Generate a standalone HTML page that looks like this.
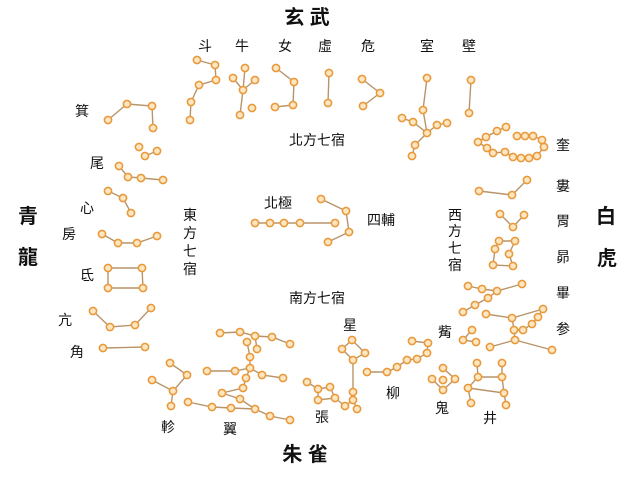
<!DOCTYPE html>
<html><head><meta charset="utf-8"><style>
html,body{margin:0;padding:0;background:#fff;}
svg{display:block}
text{font-family:"Liberation Sans","Noto Sans CJK TC","Noto Sans CJK SC",sans-serif;fill:#111;text-anchor:middle;dominant-baseline:central}
.s{font-size:14px}
.b{font-size:20px;font-weight:bold}
polyline,line,polygon{fill:none;stroke:#b8946a;stroke-width:1.4}
circle{fill:#fde7c2;stroke:#e89a3c;stroke-width:1.6}
</style></head><body>
<svg id="s" width="640" height="480" viewBox="0 0 640 480" xmlns="http://www.w3.org/2000/svg">
<g id="L">
<!-- 斗 -->
<polyline points="197,60 215,65 216,80 199,85 191,102 190,120"/>
<!-- 牛 -->
<polyline points="245,68 243,90 240,115"/><polyline points="233,78 243,90"/><polyline points="255,80 243,90"/><polyline points="252,108"/>
<!-- 女 -->
<polyline points="276,68 294,82 293,105 275,107"/>
<!-- 虛 -->
<polyline points="329,73 328,103"/>
<!-- 危 -->
<polyline points="362,79 380,93 363,106"/>
<!-- 室 -->
<polyline points="427,78 423,110 427,133"/><polyline points="402,118 413,122 427,133"/><polyline points="427,133 437,125 447,123"/><polyline points="427,133 415,145 412,156"/>
<!-- 壁 -->
<polyline points="471,80 469,113"/>
<!-- 奎 -->
<polyline points="506,127 497,131 486,137 478,142 487,148 493,153 505,152 513,157 521,158 529,158 537,156 544,147 542,140 533,136 525,136 517,136"/>
<!-- 婁 -->
<polyline points="479,191 512,195 527,180"/>
<!-- 胃 -->
<polyline points="500,214 513,227 524,215"/>
<!-- 昴 -->
<polyline points="499,241 515,241 509,254 513,266 493,265 495,249 499,241"/>
<!-- 畢 -->
<polyline points="468,286 482,289 497,291 522,284"/><polyline points="497,291 488,298 475,305 463,312"/>
<!-- 参 -->
<polyline points="486,314 512,318 543,309"/><polyline points="512,318 514,330 515,340 490,347"/><polyline points="515,340 552,350"/><polyline points="543,309 538,317 532,324 523,330 514,330"/>
<!-- 觜 -->
<polyline points="472,330 463,340 476,342"/>
<!-- 鬼 -->
<polyline points="443,368 455,379 443,390 432,379"/><polyline points="443,380"/>
<!-- 井 -->
<polyline points="477,363 478,377 468,388 471,403"/><polyline points="502,363 502,377 504,393 506,405"/><polyline points="478,377 502,377"/><polyline points="468,388 504,393"/>
<!-- 柳 -->
<polyline points="367,372 387,372 397,367 407,360 417,359 427,353 428,343 412,341"/>
<!-- 星 張 -->
<polyline points="352,340 365,353 353,360 342,349 352,340"/>
<polyline points="353,360 353,392 353,400 357,409"/>
<polyline points="307,382 318,389 330,387 335,398 318,400 318,389"/>
<polyline points="335,398 345,406 353,400"/>
<!-- 翼 -->
<polyline points="220,333 240,332 255,336 272,337 290,344"/>
<polyline points="255,336 257,349"/><polyline points="247,342 250,357 250,368"/>
<polyline points="207,371 235,371 250,368 262,375 283,378"/>
<polyline points="250,368 246,378 243,388 222,393"/>
<polyline points="222,393 240,399 255,409"/>
<polyline points="188,402 212,407 231,408 255,409 270,416 290,420"/>
<!-- 軫 -->
<polyline points="170,363 187,375 173,391 171,406"/><polyline points="152,380 173,391"/>
<!-- 角 亢 氐 房 心 尾 箕 -->
<polyline points="103,348 145,347"/>
<polyline points="93,311 110,327 135,325 151,308"/>
<polyline points="108,268 142,268 143,288 108,288 108,268"/>
<polyline points="102,234 118,243 137,243 157,236"/>
<polyline points="108,191 123,198 131,213"/>
<polyline points="119,166 128,177 141,178 163,180"/>
<polyline points="139,147"/><polyline points="145,156 157,151"/>
<polyline points="108,120 127,104 152,106 153,128"/>
<!-- 北極 四輔 -->
<polyline points="255,223 270,223 284,223 300,223 335,223"/>
<polyline points="321,199 346,211 349,232 328,242"/>
</g>
<g id="C"></g>

<text class="b" x="307" y="18">玄 武</text>
<text class="b" x="305" y="455">朱 雀</text>
<text class="b" x="28" y="217">青</text><text class="b" x="28" y="258">龍</text>
<text class="b" x="606" y="217">白</text><text class="b" x="607" y="259">虎</text>

<text class="s" x="205" y="46">斗</text><text class="s" x="242" y="46">牛</text><text class="s" x="285" y="46">女</text>
<text class="s" x="325" y="46">虛</text><text class="s" x="368" y="46">危</text><text class="s" x="427" y="46">室</text><text class="s" x="469" y="46">壁</text>
<text class="s" x="317" y="140">北方七宿</text>
<text class="s" x="317" y="298">南方七宿</text>
<text class="s" x="278" y="203">北極</text><text class="s" x="381" y="220">四輔</text>

<text class="s" x="82" y="111">箕</text><text class="s" x="97" y="163">尾</text><text class="s" x="87" y="208">心</text>
<text class="s" x="69" y="234">房</text><text class="s" x="87" y="275">氐</text><text class="s" x="65" y="320">亢</text><text class="s" x="77" y="352">角</text>
<text class="s" x="190" y="215">東</text><text class="s" x="190" y="233">方</text><text class="s" x="190" y="251">七</text><text class="s" x="190" y="269">宿</text>
<text class="s" x="455" y="215">西</text><text class="s" x="455" y="231">方</text><text class="s" x="455" y="248">七</text><text class="s" x="455" y="265">宿</text>

<text class="s" x="563" y="145">奎</text><text class="s" x="563" y="186">婁</text><text class="s" x="563" y="221">胃</text>
<text class="s" x="563" y="257">昴</text><text class="s" x="563" y="293">畢</text><text class="s" x="563" y="329">参</text>
<text class="s" x="445" y="332">觜</text><text class="s" x="442" y="408">鬼</text><text class="s" x="490" y="418">井</text>
<text class="s" x="393" y="393">柳</text><text class="s" x="350" y="325">星</text><text class="s" x="322" y="417">張</text>
<text class="s" x="230" y="429">翼</text><text class="s" x="168" y="427">軫</text>
</svg>
<script>
(function(){
var ns="http://www.w3.org/2000/svg",C=document.getElementById("C"),seen={};
document.querySelectorAll("#L polyline").forEach(function(p){
 var pts=p.getAttribute("points").trim().split(/\s+/);
 pts.forEach(function(q){
  if(seen[q])return;seen[q]=1;
  var a=q.split(","),c=document.createElementNS(ns,"circle");
  c.setAttribute("cx",a[0]);c.setAttribute("cy",a[1]);c.setAttribute("r","3.6");
  C.appendChild(c);
 });
});
})();
</script>
</body></html>
